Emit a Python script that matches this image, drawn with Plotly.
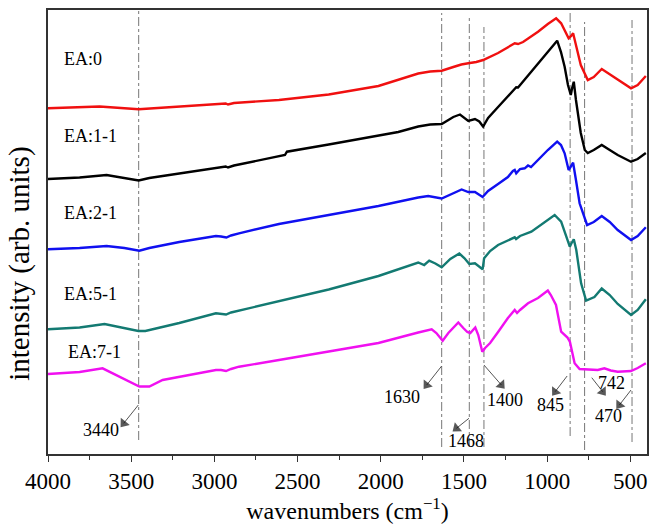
import plotly.graph_objects as go

# ---------------- data ----------------
wn_ea0 = [4000, 3690, 3455, 3211, 2932, 2918, 2882, 2612, 2313, 2014, 1775, 1703, 1634, 1564,
          1516, 1474, 1426, 1385, 1295, 1195, 1175, 1145, 1055, 996, 946, 916, 887, 871, 856,
          844, 827, 798, 756, 720, 672, 636, 576, 496, 456, 407]
int_ea0 = [345.7, 347.5, 344.7, 347.5, 350.5, 349.5, 351, 354, 359.5, 368, 380.5, 382.5, 383.3, 387,
           389.5, 390.7, 392, 394, 401, 410.7, 410, 412, 422.3, 430, 435.7, 430.7, 421, 415.7, 418,
           420.7, 409, 389, 374, 377, 385, 381, 374, 365.7, 369, 378]

wn_ea11 = [4000, 3810, 3648, 3541, 3455, 3391, 3151, 2932, 2918, 2882, 2576, 2564, 2313, 2014, 1895,
           1775, 1703, 1634, 1564, 1524, 1498, 1474, 1434, 1408, 1385, 1355, 1295, 1186, 1175, 1095,
           1025, 940, 917, 895, 875, 858, 850, 840, 827, 798, 774, 756, 720, 672, 624, 576, 496,
           456, 407]
int_ea11 = [275, 276.5, 279, 276, 273.5, 276, 282, 287.5, 286.5, 288.5, 299, 302.3, 309.5, 318.5, 322,
            327.5, 329.5, 330, 337, 339.5, 336, 333, 335, 332.5, 327.5, 336, 347, 366.7, 366.5, 382.3,
            396, 413.3, 402, 387.3, 369, 359, 366, 372.3, 354, 321, 304, 301, 304, 309, 304, 299, 292.3,
            295, 301]

wn_ea21 = [4000, 3810, 3648, 3541, 3451, 3391, 3211, 2991, 2960, 2928, 2900, 2852, 2612, 2313, 2014,
           1775, 1715, 1634, 1564, 1514, 1474, 1434, 1388, 1355, 1295, 1236, 1206, 1195, 1186, 1163,
           1135, 1115, 1097, 1075, 1055, 996, 940, 917, 895, 871, 856, 844, 827, 805, 760, 720,
           672, 624, 576, 496, 456, 407]
int_ea21 = [204.7, 206, 208, 206, 203.3, 206, 212, 218, 217.5, 216.5, 218.5, 220.7, 230, 239, 248,
            256.5, 258, 255.5, 261, 264.5, 262, 262, 257, 263, 270, 277, 283, 284, 280.7, 285,
            285.7, 288.5, 287, 290.7, 294, 304, 312.3, 309, 300.7, 284, 288, 291.3, 274, 250.7, 229, 232,
            238, 232, 224, 214, 218, 226.7]

wn_ea51 = [4000, 3810, 3660, 3571, 3457, 3415, 3211, 2991, 2960, 2930, 2900, 2612, 2313, 2014, 1775,
           1739, 1709, 1672, 1634, 1582, 1528, 1498, 1468, 1434, 1388, 1379, 1343, 1295, 1195, 1187,
           1163, 1095, 1025, 955, 916, 887, 864, 853, 840, 825, 796, 766, 716, 672, 624, 576, 496,
           456, 407]
int_ea51 = [124.7, 126.5, 130, 127, 123, 123, 131, 140.7, 140, 139.5, 141.5, 153, 164.5, 178, 191.5,
            189, 193.3, 190.5, 186.7, 195, 200.5, 196, 190, 190.7, 184.7, 195.7, 203, 209, 216.7, 215,
            218, 222.3, 231, 239, 232.3, 219, 207.3, 211, 214.7, 204, 170.7, 153.5, 157, 165.5, 159, 150,
            139, 144, 154.7]

wn_ea71 = [4000, 3810, 3672, 3601, 3511, 3451, 3391, 3311, 3151, 2991, 2960, 2930, 2900, 2852, 2612,
           2313, 2014, 1775, 1694, 1666, 1628, 1594, 1534, 1504, 1480, 1462, 1432, 1414, 1390, 1373,
           1343, 1295, 1236, 1195, 1181, 1163, 1115, 1055, 996, 978, 947, 916, 878, 863, 835, 805,
           744, 696, 656, 618, 576, 496, 456, 407]
int_ea71 = [80, 82, 85.7, 80, 72, 67.5, 67.5, 74, 79, 84, 84, 83, 85, 87.3, 94,
            102.5, 111, 121.5, 124.7, 121, 113.3, 121, 131.5, 126, 122, 121, 126.5, 119, 102.3, 106,
            111, 122, 136, 144, 141, 144, 150.7, 156, 163.5, 159, 149, 122.3, 116.5, 112, 90.7, 85,
            84.5, 84, 85.7, 83.5, 82.3, 83, 86, 90.7]

series_names = ["EA:0", "EA:1-1", "EA:2-1", "EA:5-1", "EA:7-1"]
series_colors = ["#f01010", "#000000", "#1010f0", "#137a72", "#f010f0"]
series_x = [wn_ea0, wn_ea11, wn_ea21, wn_ea51, wn_ea71]
series_y = [int_ea0, int_ea11, int_ea21, int_ea51, int_ea71]

# series label positions (wavenumber, intensity)
label_x = [3918, 3918, 3918, 3918, 3890]
label_y = [395, 318, 240.7, 160, 102.3]

# marker (dash-dot) lines: wavenumber, top and bottom intensity
vline_x = [3455, 1634, 1468, 1380, 862, 775, 490]
vline_top = [444, 441, 436, 427, 441, 432, 434]
vline_bot = [14, 7, 7, 7, 18, 4, 12]

# peak labels
peak_text = ["3440", "1630", "1468", "1400", "845", "742", "470"]
peak_text_x = [3680, 1874, 1488, 1251, 979, 616, 632]
peak_text_y = [24, 57.3, 13.3, 54, 49, 71.3, 38.3]
arrow_tail_x = [3457, 1634, 1470, 1380, 880, 732, 496]
arrow_tail_y = [49, 88, 35.7, 89, 78, 76.3, 64]
arrow_head_x = [3545, 1724, 1545, 1275, 952, 666, 566]
arrow_head_y = [30.7, 69, 25.7, 69, 62.3, 62.3, 49]

x_ticks = [4000, 3500, 3000, 2500, 2000, 1500, 1000, 500]

FONT = "Liberation Serif"

fig = go.Figure()

for vx, vt, vb in zip(vline_x, vline_top, vline_bot):
    fig.add_trace(go.Scatter(x=[vx, vx], y=[vb, vt], mode="lines",
                             line=dict(color="#777777", width=1, dash="dashdot"),
                             hoverinfo="skip", showlegend=False))

for nm, col, xs, ys in zip(series_names, series_colors, series_x, series_y):
    fig.add_trace(go.Scatter(x=xs, y=ys, mode="lines", name=nm,
                             line=dict(color=col, width=2.4), showlegend=False))

# arrows: thin grey shaft with a black triangular head at the label end
for hx, hy, tx, ty in zip(arrow_head_x, arrow_head_y, arrow_tail_x, arrow_tail_y):
    fig.add_trace(go.Scatter(x=[tx, hx], y=[ty, hy], mode="lines+markers",
                             line=dict(color="#555555", width=1),
                             marker=dict(symbol=["circle", "triangle-up"], size=[0, 10],
                                         color="#111111", angleref="previous",
                                         line=dict(width=0)),
                             hoverinfo="skip", showlegend=False))

annotations = []
for nm, lx, ly in zip(series_names, label_x, label_y):
    annotations.append(dict(x=lx, y=ly, xref="x", yref="y", text=nm, showarrow=False,
                            xanchor="left", yanchor="middle",
                            font=dict(family=FONT, size=18, color="black")))

for t, tx, ty in zip(peak_text, peak_text_x, peak_text_y):
    annotations.append(dict(x=tx, y=ty, xref="x", yref="y", text=t, showarrow=False,
                            xanchor="center", yanchor="middle",
                            font=dict(family=FONT, size=18, color="black")))

# y-axis title, placed like in the reference (slightly below the plot centre)
annotations.append(dict(x=-0.047, y=0.428, xref="paper", yref="paper",
                        text="intensity (arb. units)", textangle=-90, showarrow=False,
                        xanchor="center", yanchor="middle",
                        font=dict(family=FONT, size=29, color="black")))

fig.update_layout(
    width=651, height=527,
    margin=dict(l=48, r=2, t=10, b=73),
    paper_bgcolor="white", plot_bgcolor="white",
    font=dict(family=FONT, color="black"),
    annotations=annotations,
    xaxis=dict(range=[4000, 400], tickvals=x_ticks, ticks="outside", ticklen=6, tickwidth=1.2,
               tickcolor="#333333",
               minor=dict(dtick=250, tick0=0, ticks="outside", ticklen=4, tickcolor="#333333"),
               showline=True, linecolor="#333333", linewidth=1.5, mirror=True,
               showgrid=False, zeroline=False,
               tickfont=dict(family=FONT, size=23, color="black"),
               title=dict(text="wavenumbers (cm<sup>\u22121</sup>)",
                          font=dict(family=FONT, size=24, color="black"), standoff=9)),
    yaxis=dict(range=[0, 444], showticklabels=False, ticks="", showline=True,
               linecolor="#333333", linewidth=1.5, mirror=True, showgrid=False, zeroline=False),
)

fig.write_html("out.html")
